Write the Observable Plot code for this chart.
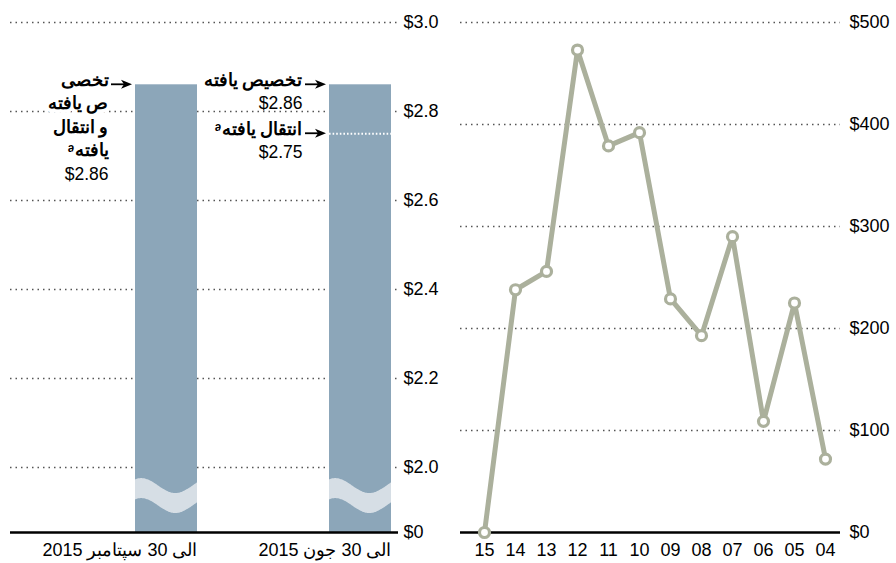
<!DOCTYPE html>
<html><head><meta charset="utf-8">
<script src="https://cdn.jsdelivr.net/npm/d3@7"></script>
<script src="https://cdn.jsdelivr.net/npm/@observablehq/plot@0.6"></script>
<style>
body{margin:0;background:#fff;}
#wrap{position:relative;width:896px;height:563px;font-family:"Liberation Sans",Arial,sans-serif;}
#left{position:absolute;left:0;top:0;}
#right{position:absolute;left:446px;top:0;}
</style></head><body><div id="wrap"><div id="left"></div><div id="right"></div></div>
<script>
// ---- data ----
const periods = ["الی 30 سپتامبر 2015", "الی 30 جون 2015"];
const allocated = [2.86, 2.86];
const transferred = [null, 2.75];
const leftTicks = [0, 2.0, 2.2, 2.4, 2.6, 2.8, 3.0];
const annotLabels = ["تخصی\nص یافته\nو انتقال\nᵃیافته", "تخصیص یافته", "ᵃانتقال یافته"];
const annotPeriods = [periods[0], periods[1], periods[1]];
const annotValues = [2.86, 2.86, 2.75];
const years = ["15","14","13","12","11","10","09","08","07","06","05","04"];
const amounts = [0, 238, 256, 473, 379, 392, 229, 193, 290, 109, 225, 72];
const rightTicks = [0, 100, 200, 300, 400, 500];

const FONT = "Liberation Sans, Arial, sans-serif";
const BAR = "#8ca6b9", WAVE = "#d6dee5", LINE = "#abb09c", GRID = "#555";

const barRows = periods.map((p, i) => ({period: p, value: allocated[i]}));
const transRows = periods.map((p, i) => ({period: p, value: transferred[i]})).filter(d => d.value != null);
const annots = annotLabels.map((l, i) => ({period: annotPeriods[i], value: annotValues[i], label: l}));
const lineRows = years.map((y, i) => ({year: y, amount: amounts[i]}));

// ---- left: broken-axis bars ----
const left = Plot.plot({
  width: 446, height: 563,
  marginTop: 22, marginBottom: 31, marginLeft: 10, marginRight: 48,
  style: {fontFamily: FONT, fontSize: "18px", background: "white", color: "black"},
  x: {domain: periods, paddingInner: 0.68, paddingOuter: 0.34, align: 0.947, label: null},
  y: {type: "linear", domain: [0, 2.0, 3.0], range: [532, 467, 22], label: null},
  marks: [
    Plot.ruleY(leftTicks.filter(t => t > 0), {stroke: GRID, strokeWidth: 1.4, strokeDasharray: "1.5,4"}),
    Plot.barY(barRows, {x: "period", y: "value", fill: BAR}),
    Plot.tickY(transRows, {x: "period", y: "value", stroke: "white", strokeWidth: 2, strokeDasharray: "1.6,2"}),
    Plot.ruleY([0], {stroke: "black", strokeWidth: 2.5}),
    Plot.axisY(leftTicks, {anchor: "right", tickSize: 0, tickPadding: 5, label: null,
      tickFormat: d => d === 0 ? "$0" : "$" + d.toFixed(1), fontSize: 18}),
    Plot.axisX({tickSize: 0, tickPadding: 11, textAnchor: "end", dx: 31, label: null, fontSize: 18}),
    Plot.text(annots, {x: "period", y: "value", text: "label", dx: -58, dy: -16,
      textAnchor: "end", lineAnchor: "top", lineHeight: 1.35, fontSize: 17.5, fontWeight: "bold",
      fill: "black", stroke: "white", strokeWidth: 7}),
    Plot.text(annots, {x: "period", y: "value",
      text: d => "\n".repeat(d.label.split("\n").length) + "$" + d.value.toFixed(2),
      dx: -58, dy: -16, textAnchor: "end", lineAnchor: "top", lineHeight: 1.35, fontSize: 17.5, fill: "black"})
  ]
});
document.getElementById("left").appendChild(left);

// wave breaks and arrows, placed through Plot's own scales
(function () {
  const xs = left.scale("x"), ys = left.scale("y");
  const svg = d3.select(left);
  const g = svg.append("g");
  const breakValue = 1.12;
  periods.forEach(p => {
    const x0 = xs.apply(p), bw = xs.bandwidth, yc = ys.apply(breakValue);
    const pts = d3.range(0, 1.0001, 0.02).map(t => [x0 + t * bw, yc - 7.5 * Math.cos(2 * Math.PI * (t - 0.1) / 1.1)]);
    g.append("path")
      .attr("d", d3.area().x(d => d[0]).y0(d => d[1] - 10).y1(d => d[1] + 10).curve(d3.curveBasis)(pts))
      .attr("fill", WAVE);
  });
  annots.forEach(a => {
    const xEnd = xs.apply(a.period) - 3, xStart = xEnd - 21, y = ys.apply(a.value);
    g.append("line").attr("x1", xStart).attr("x2", xEnd - 6).attr("y1", y).attr("y2", y)
      .attr("stroke", "black").attr("stroke-width", 1.8);
    g.append("path")
      .attr("d", `M${xEnd},${y}L${xEnd - 11},${y - 4.5}L${xEnd - 8},${y}L${xEnd - 11},${y + 4.5}Z`)
      .attr("fill", "black");
  });
})();

// ---- right: line chart ----
const right = Plot.plot({
  width: 450, height: 563,
  marginTop: 22, marginBottom: 31, marginLeft: 14, marginRight: 56,
  style: {fontFamily: FONT, fontSize: "18px", background: "white", color: "black"},
  x: {type: "point", domain: years, padding: 0.6, align: 0.615, label: null},
  y: {domain: [0, 500], label: null},
  marks: [
    Plot.ruleY(rightTicks.filter(t => t > 0), {stroke: GRID, strokeWidth: 1.4, strokeDasharray: "1.5,4"}),
    Plot.axisY(rightTicks, {anchor: "right", tickSize: 0, tickPadding: 9, label: null,
      tickFormat: d => "$" + d, fontSize: 18}),
    Plot.axisX({tickSize: 0, tickPadding: 11, label: null, fontSize: 18}),
    Plot.ruleY([0], {stroke: "black", strokeWidth: 2.5}),
    Plot.line(lineRows, {x: "year", y: "amount", stroke: LINE, strokeWidth: 5}),
    Plot.dot(lineRows, {x: "year", y: "amount", r: 5, fill: "white", stroke: LINE, strokeWidth: 3.2})
  ]
});
document.getElementById("right").appendChild(right);
</script>
</body></html>
